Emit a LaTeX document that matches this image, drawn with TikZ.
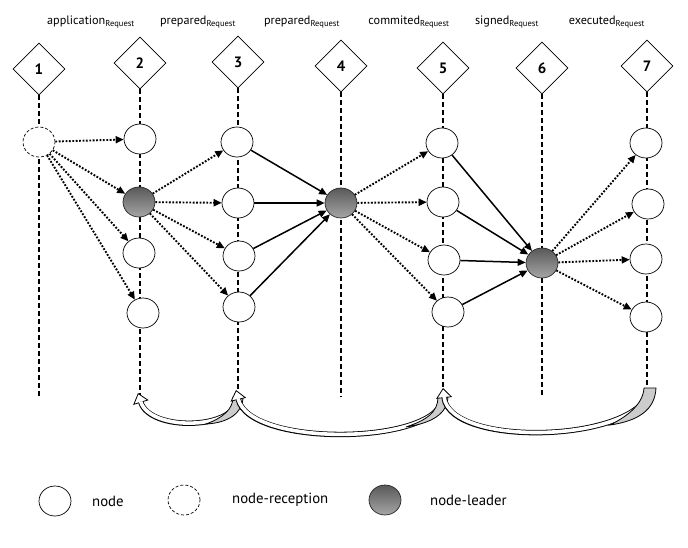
\documentclass[tikz,border=0pt]{standalone}
\usepackage{fontspec}
\setmainfont{PT Sans}
\usetikzlibrary{shapes.geometric,arrows.meta}
\tikzset{
  peer/.style={
    % The shape:
    ellipse,minimum width=32pt,minimum height=30pt,inner sep=0pt,
    % The border:
    draw=black,line width=0.7pt,
    % The filling:
    fill=white}}
\tikzset{
  reception/.style={peer,dash pattern=on 3pt off 2pt}}
\tikzset{
  leader/.style={
    peer,draw=black!85,
    top color=black!65, % a shading that is darker at the top...
    bottom color=black!35}} % and lighter at the bottom
\tikzset{
  phase/.style={
    diamond,minimum width=52pt,minimum height=52pt,inner sep=0pt,
    draw=black,line width=0.7pt,fill=white,
    font=\fontsize{15}{15}\selectfont\bfseries}}
\tikzset{
  title/.style={font=\fontsize{12.2}{12}\selectfont,inner sep=0pt}}
\tikzset{
  legend/.style={font=\fontsize{14.8}{15}\selectfont,anchor=west,inner sep=0pt}}
\tikzset{
  lane/.style={line width=1.8pt,dash pattern=on 5pt off 3pt},
  msg/.style={-{Triangle[length=8pt,width=7pt]},line width=1.9pt,dash pattern=on 1.8pt off 1.6pt},
  vote/.style={-{Triangle[length=8pt,width=7pt]},line width=1.5pt},
  band/.style={line width=5.4pt,-{Triangle[length=10pt,width=16pt,line width=0.8pt,fill=white]}},
  bandin/.style={line width=3.6pt,white,shorten >=9pt},
  bandtail/.style={draw=black,line width=0.8pt,fill=black!20}}

\begin{document}
\begin{tikzpicture}[x=1pt,y=-1pt]
	\useasboundingbox (0,0) rectangle (688,547);
	% Phases
	\node[phase] (d1) at (39,69) {1};
	\node[phase] (d2) at (140,63) {2};
	\node[phase] (d3) at (238,62) {3};
	\node[phase] (d4) at (341,66) {4};
	\node[phase] (d5) at (443,68) {5};
	\node[phase] (d6) at (542,68) {6};
	\node[phase] (d7) at (647,66) {7};
	% Phase titles
	\node[title] (t1) at (91,22) {application\textsubscript{Request}};
	\node[title] (t2) at (198,22) {prepared\textsubscript{Request}};
	\node[title] (t3) at (302,22) {prepared\textsubscript{Request}};
	\node[title] (t4) at (409,22) {commited\textsubscript{Request}};
	\node[title] (t5) at (507,22) {signed\textsubscript{Request}};
	\node[title] (t6) at (607,22) {executed\textsubscript{Request}};
	% Ends of the lanes
	\coordinate (e1) at (39,397);
	\coordinate (e2) at (140,397);
	\coordinate (e3) at (238,397);
	\coordinate (e4) at (341,397);
	\coordinate (e5) at (443,397);
	\coordinate (e6) at (542,397);
	\coordinate (e7) at (647,389);
	% Lanes
	\draw[lane] (d1) -- (e1);
	\draw[lane] (d2) -- (e2);
	\draw[lane] (d3) -- (e3);
	\draw[lane] (d4) -- (e4);
	\draw[lane] (d5) -- (e5);
	\draw[lane] (d6) -- (e6);
	\draw[lane] (d7) -- (e7);
	% Lane 1
	\node[reception] (r1) at (39,142) {};
	% Lane 2
	\node[peer] (n2a) at (140,139) {};
	\node[leader] (l2) at (139,202) {};
	\node[peer] (n2c) at (139,253) {};
	\node[peer] (n2d) at (143,313) {};
	% Lane 3
	\node[peer] (n3a) at (237,142) {};
	\node[peer] (n3b) at (238,203) {};
	\node[peer] (n3c) at (239,256) {};
	\node[peer] (n3d) at (239,307) {};
	% Lane 4
	\node[leader] (l4) at (341,203) {};
	% Lane 5
	\node[peer] (n5a) at (442,143) {};
	\node[peer] (n5b) at (443,202) {};
	\node[peer] (n5c) at (444,260) {};
	\node[peer] (n5d) at (448,312) {};
	% Lane 6
	\node[leader] (l6) at (542,263) {};
	% Lane 7
	\node[peer] (n7a) at (646,143) {};
	\node[peer] (n7b) at (648,204) {};
	\node[peer] (n7c) at (646,259) {};
	\node[peer] (n7d) at (646,317) {};
	% Lines out of r1
	\draw[msg] (r1) -- (n2a);
	\draw[msg] (r1) -- (l2);
	\draw[msg] (r1) -- (n2c);
	\draw[msg] (r1) -- (n2d);
	% Lines out of l2
	\draw[msg] (l2) -- (n3a);
	\draw[msg] (l2) -- (n3b);
	\draw[msg] (l2) -- (n3c);
	\draw[msg] (l2) -- (n3d);
	% Lines into l4
	\draw[vote] (n3a) -- (l4);
	\draw[vote] (n3b) -- (l4);
	\draw[vote] (n3c) -- (l4);
	\draw[vote] (n3d) -- (l4);
	% Lines out of l4
	\draw[msg] (l4) -- (n5a);
	\draw[msg] (l4) -- (n5b);
	\draw[msg] (l4) -- (n5c);
	\draw[msg] (l4) -- (n5d);
	% Lines into l6
	\draw[vote] (n5a) -- (l6);
	\draw[vote] (n5b) -- (l6);
	\draw[vote] (n5c) -- (l6);
	\draw[vote] (n5d) -- (l6);
	% Lines out of l6
	\draw[msg] (l6) -- (n7a);
	\draw[msg] (l6) -- (n7b);
	\draw[msg] (l6) -- (n7c);
	\draw[msg] (l6) -- (n7d);
	% Back arrows under the lanes
	\coordinate (ta1) at (238,397);
	\coordinate (ha1) at (138,393);
	\coordinate (ta2) at (443,397);
	\coordinate (ha2) at (236,390);
	\coordinate (ta3) at (650,389);
	\coordinate (ha3) at (443,388);
	% from lane 3 back to lane 2
	\draw[band] (ta1) .. controls (238,430) and (150,432) .. (ha1);
	\draw[bandin] (ta1) .. controls (238,430) and (150,432) .. (ha1);
	\draw[bandtail] (233,397) -- (243,397) .. controls (243,413) and (228,423) .. (206,424)
		.. controls (222,418) and (233,410) .. (233,397) -- cycle;
	% from lane 5 back to lane 3
	\draw[band] (ta2) .. controls (441,445) and (250,448) .. (ha2);
	\draw[bandin] (ta2) .. controls (441,445) and (250,448) .. (ha2);
	\draw[bandtail] (438,397) -- (448,397) .. controls (447,414) and (432,423) .. (406,427)
		.. controls (427,420) and (438,412) .. (438,397) -- cycle;
	% from lane 7 back to lane 5
	\draw[band] (ta3) .. controls (640,443) and (450,448) .. (ha3);
	\draw[bandin] (ta3) .. controls (640,443) and (450,448) .. (ha3);
	\draw[bandtail] (644,388) -- (656,388) .. controls (655,410) and (638,421) .. (610,425)
		.. controls (628,416) and (643,404) .. (644,388) -- cycle;
	% Legend
	\node[peer] (k1) at (55,501) {};
	\node[legend] (k1t) at (92,501) {node};
	\node[reception] (k2) at (184,500) {};
	\node[legend] (k2t) at (232,500) {node-reception};
	\node[leader] (k3) at (385,500) {};
	\node[legend] (k3t) at (430,500) {node-leader};
\end{tikzpicture}
\end{document}
